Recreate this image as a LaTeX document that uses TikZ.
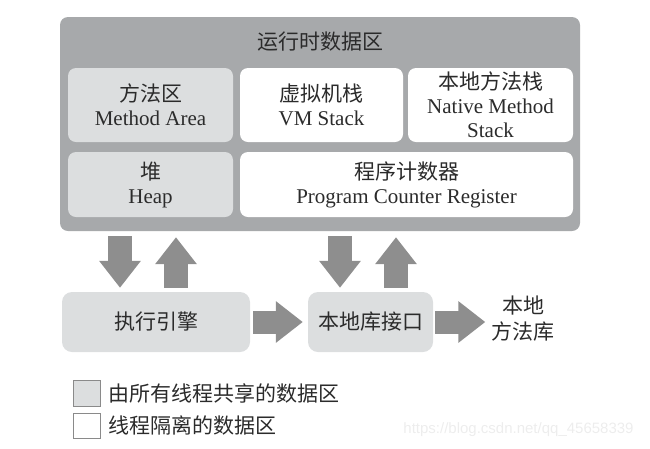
\documentclass[tikz,border=0pt]{standalone}
\usepackage{xcolor}
\usepackage{tikz}
\usepackage{fontspec}
\setmainfont{Liberation Serif}
\newfontfamily\cjk{Noto Sans CJK SC}
\newfontfamily\urlfont{Liberation Sans}
\usetikzlibrary{arrows.meta}

\definecolor{outergray}{HTML}{A7A9AB}
\definecolor{sharedgray}{HTML}{DCDEDF}
\definecolor{arrowgray}{HTML}{8E8E8E}
\definecolor{inkgray}{HTML}{2B2B2B}
\definecolor{legendline}{HTML}{8A8A8A}

\tikzset{
    region/.style = {rounded corners = 8pt, inner sep = 0pt, align = center,
                     text = inkgray, font = \fontsize{21}{24}\selectfont},
    shared/.style = {region, fill = sharedgray},
    private/.style = {region, fill = white},
    label/.style = {inner sep = 0pt, align = center, text = inkgray,
                    font = \fontsize{21}{26}\selectfont},
    fatarrow/.style = {draw = arrowgray, line width = 24pt,
                       -{Triangle[width = 40pt, length = 27pt]}},
    legendbox/.style = {draw = legendline, line width = 1pt, inner sep = 0pt,
                        minimum width = 27pt, minimum height = 26pt}
}

\begin{document}
\begin{tikzpicture}[x = 1pt, y = -1pt]
    \useasboundingbox (0, 0) rectangle (650, 448);
    {
      \node[region, fill = outergray, minimum width = 520pt, minimum height = 214pt] (runtime) at (320, 124) {};
      \node[label] (title) at (320, 42) {\cjk 运行时数据区};
    }
    {
      \node[shared, minimum width = 165pt, minimum height = 74pt] (method) at (150.5, 105) {{\cjk 方法区}\\Method Area};
      \node[private, minimum width = 163pt, minimum height = 74pt] (vmstack) at (321.5, 105) {{\cjk 虚拟机栈}\\VM Stack};
      \node[private, minimum width = 165pt, minimum height = 74pt] (nativestack) at (490.5, 105) {{\cjk 本地方法栈}\\Native Method\\Stack};
    }
    {
      \node[shared, minimum width = 165pt, minimum height = 65pt] (heap) at (150.5, 184.5) {{\cjk 堆}\\Heap};
      \node[private, minimum width = 333pt, minimum height = 65pt] (pcr) at (406.5, 184.5) {{\cjk 程序计数器}\\Program Counter Register};
    }
    {
      \node[shared, rounded corners = 10pt, minimum width = 188pt, minimum height = 60pt] (engine) at (156, 322) {\cjk 执行引擎};
      \node[shared, rounded corners = 10pt, minimum width = 125pt, minimum height = 60pt] (iface) at (370.5, 322) {\cjk 本地库接口};
      \node[label] (nativelib) at (523, 319) {{\cjk 本地}\\{\cjk 方法库}};
    }
    \coordinate (down1) at (120, 0);
    \coordinate (up1) at (176, 0);
    \coordinate (down2) at (340, 0);
    \coordinate (up2) at (396, 0);
    \draw[fatarrow, shorten < = 5pt, shorten > = 4pt] (runtime.south -| down1) -- (engine.north -| down1);
    \draw[fatarrow, shorten < = 4pt, shorten > = 6pt] (engine.north -| up1) -- (runtime.south -| up1);
    \draw[fatarrow, shorten < = 5pt, shorten > = 4pt] (runtime.south -| down2) -- (iface.north -| down2);
    \draw[fatarrow, shorten < = 4pt, shorten > = 6pt] (iface.north -| up2) -- (runtime.south -| up2);
    \draw[fatarrow, line width = 23pt, shorten < = 3pt, shorten > = 5pt] (engine.east) -- (iface.west);
    \draw[fatarrow, line width = 23pt, shorten < = 2pt, shorten > = 6pt] (iface.east) -- (nativelib.west |- iface.east);
    {
      \node[legendbox, fill = sharedgray] (sharedkey) at (87, 393) {};
      \node[legendbox, fill = white, minimum height = 25pt] (privatekey) at (87, 425.5) {};
      \node[label, anchor = west] (sharedtext) at (108, 393) {\cjk 由所有线程共享的数据区};
      \node[label, anchor = west] (privatetext) at (108, 425) {\cjk 线程隔离的数据区};
    }
    \node[inner sep = 0pt, text = black!7, font = \urlfont\fontsize{15}{18}\selectfont] (blogurl) at (518.5, 430) {https://blog.csdn.net/qq\_45658339};
\end{tikzpicture}
\end{document}
